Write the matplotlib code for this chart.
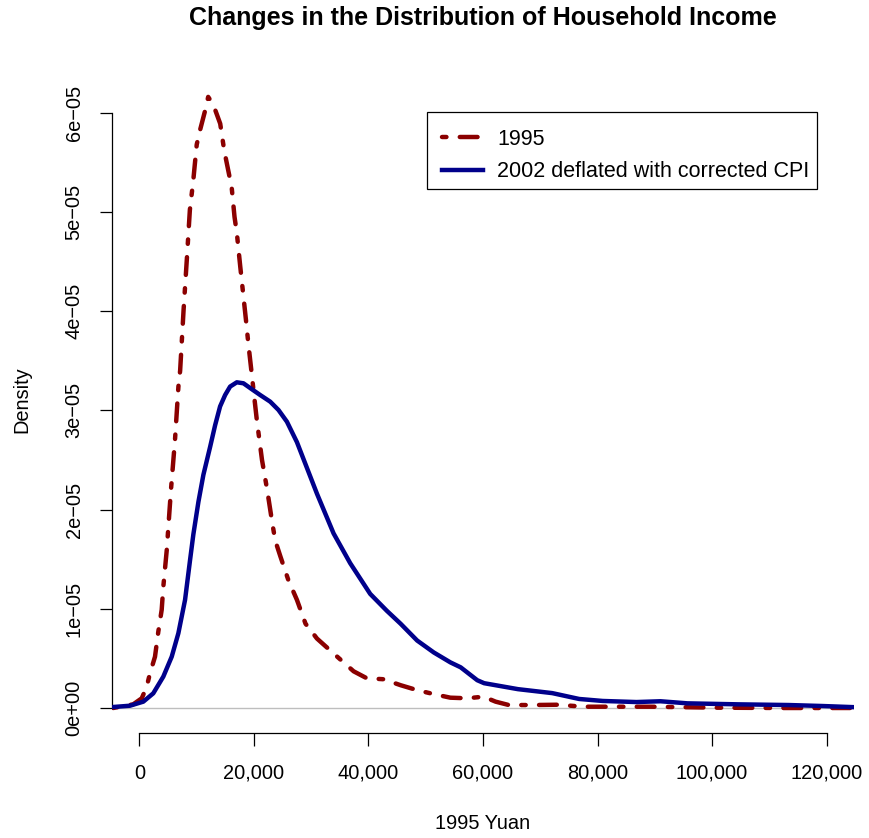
import matplotlib
matplotlib.use("Agg")
import matplotlib.pyplot as plt
from matplotlib.lines import Line2D
from matplotlib.patches import Rectangle

plt.rcParams['font.family'] = ['Liberation Sans', 'DejaVu Sans']

# Kernel density estimates of household income (1995 Yuan), density in units of 1e-5
inc_1995 = [-4600, -1100, 400, 1260, 1840, 2710, 3290, 3880, 4160, 4760,
            5500, 6200, 6800, 7100, 7700, 8300, 8800, 9400, 10000, 10600,
            11500, 12000, 12900, 14100, 14800, 15500, 16100, 16600, 17000, 17600,
            18100, 18600, 19000, 19600, 19900, 20500, 21400, 22300, 23100, 23700,
            24600, 26000, 27500, 29000, 31000, 33900, 37400, 39700, 42600, 45600,
            48500, 51400, 54300, 57200, 60100, 62200, 64500, 68800, 73000, 77600,
            89300, 101000, 112600, 123400, 125000]
dens_1995 = [0.0, 0.037, 0.098, 0.215, 0.35, 0.517, 0.77, 0.99, 1.22, 1.59,
             2.20, 2.70, 3.24, 3.40, 4.01, 4.55, 5.02, 5.32, 5.68, 5.83,
             6.03, 6.16, 6.08, 5.89, 5.62, 5.42, 5.25, 4.95, 4.79, 4.45,
             4.18, 3.91, 3.68, 3.37, 3.21, 2.90, 2.50, 2.20, 1.90, 1.69,
             1.53, 1.29, 1.09, 0.85, 0.70, 0.55, 0.37, 0.30, 0.29, 0.23,
             0.18, 0.14, 0.104, 0.098, 0.114, 0.064, 0.03, 0.03, 0.033, 0.013,
             0.013, 0.003, 0.0, 0.0, 0.0]

inc_2002 = [-4600, -1660, 670, 2410, 4160, 5630, 6790, 7960, 8830, 9410,
            10300, 11160, 12330, 13210, 14080, 14960, 15830, 17000, 18160, 19630,
            21080, 22830, 24280, 25750, 27500, 29250, 31000, 33900, 36800, 40300,
            43200, 45600, 48500, 51400, 54300, 56100, 59000, 60200, 66100, 72100,
            76800, 80900, 86800, 91000, 95700, 104500, 113400, 119300, 125000]
dens_2002 = [0.01, 0.023, 0.064, 0.148, 0.316, 0.517, 0.753, 1.09, 1.49, 1.75,
             2.08, 2.35, 2.63, 2.85, 3.04, 3.155, 3.24, 3.283, 3.273, 3.213,
             3.155, 3.088, 3.004, 2.886, 2.68, 2.42, 2.16, 1.76, 1.46, 1.15,
             0.98, 0.85, 0.68, 0.56, 0.46, 0.41, 0.28, 0.25, 0.19, 0.15,
             0.091, 0.071, 0.060, 0.068, 0.047, 0.037, 0.030, 0.020, 0.008]

x_ticks = [0, 20000, 40000, 60000, 80000, 100000, 120000]
x_labels = ['0', '20,000', '40,000', '60,000', '80,000', '100,000', '120,000']
y_ticks = [0, 1e-5, 2e-5, 3e-5, 4e-5, 5e-5, 6e-5]
y_labels = ['0e+00', '1e\u221205', '2e\u221205', '3e\u221205', '4e\u221205', '5e\u221205', '6e\u221205']

W, H = 869, 838
fig = plt.figure(figsize=(W / 100, H / 100), dpi=100)
ax = fig.add_axes([112 / W, 1 - 733 / H, 742 / W, 675 / H])

red = '#8B0000'
blue = '#00008B'
lw = 3.2
dotdash = (0, (1, 3, 4, 3))

ax.axhline(0, color='#BEBEBE', lw=1.0, zorder=1)
ax.plot(inc_1995, [d * 1e-5 for d in dens_1995], color=red, lw=lw,
        linestyle=dotdash, dash_capstyle='round', zorder=2)
ax.plot(inc_2002, [d * 1e-5 for d in dens_2002], color=blue, lw=lw,
        solid_capstyle='round', solid_joinstyle='round', zorder=3)

ax.set_xlim(-4800, 124800)
ax.set_ylim(-2.52e-6, 6.552e-5)

# R-style axes: only the left and bottom lines, spanning the tick range
for s in ['top', 'right']:
    ax.spines[s].set_visible(False)
ax.spines['left'].set_bounds(0, 6e-5)
ax.spines['bottom'].set_bounds(0, 120000)
for s in ['left', 'bottom']:
    ax.spines[s].set_linewidth(0.9)

ax.set_xticks(x_ticks)
ax.set_xticklabels(x_labels)
ax.set_yticks(y_ticks)
ax.set_yticklabels(y_labels, rotation=90, va='center')
ax.tick_params(axis='both', length=9, width=0.9, labelsize=14.4, color='black')
ax.tick_params(axis='x', pad=13)
ax.tick_params(axis='y', pad=11.5)

fig.text(483 / W, 1 - 18 / H, 'Changes in the Distribution of Household Income',
         ha='center', va='center', fontsize=18, fontweight='bold')
fig.text(483 / W, 1 - 823 / H, '1995 Yuan', ha='center', va='center', fontsize=14.4)
fig.text(22 / W, 1 - 400 / H, 'Density', ha='center', va='center', rotation=90, fontsize=14.4)

# legend box drawn separately so the padding can be uneven, like base R
box = Rectangle((427 / W, 1 - 189 / H), 390 / W, 77 / H, transform=fig.transFigure,
                facecolor='white', edgecolor='black', lw=0.9, zorder=4)
fig.add_artist(box)

handles = [Line2D([], [], color=red, lw=lw, linestyle=dotdash, dash_capstyle='round'),
           Line2D([], [], color=blue, lw=lw)]
leg = fig.legend(handles, ['1995', '2002 deflated with corrected CPI'],
                 loc='upper left', bbox_to_anchor=(442 / W, 1 - 129 / H),
                 fontsize=15.5, frameon=False,
                 handlelength=1.9, handletextpad=0.65, borderpad=0, labelspacing=0.52,
                 borderaxespad=0)
leg.set_zorder(5)

fig.savefig('out.png', dpi=100)
